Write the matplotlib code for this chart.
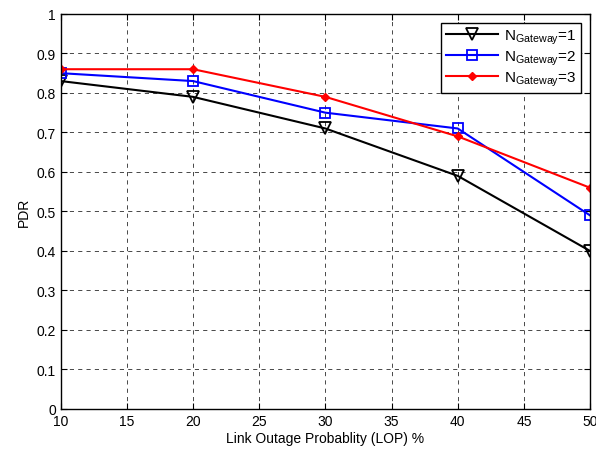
import matplotlib.pyplot as plt

plt.rcParams['font.family'] = ['Liberation Sans', 'DejaVu Sans']
plt.rcParams['mathtext.fontset'] = 'custom'
plt.rcParams['mathtext.rm'] = 'Liberation Sans'

# data
lop = [10, 20, 30, 40, 50]
pdr_gw1 = [0.83, 0.79, 0.71, 0.59, 0.40]
pdr_gw2 = [0.85, 0.83, 0.75, 0.71, 0.49]
pdr_gw3 = [0.86, 0.86, 0.79, 0.69, 0.56]
labels = ['N$_{\\rm Gateway}$=1', 'N$_{\\rm Gateway}$=2', 'N$_{\\rm Gateway}$=3']

fig = plt.figure(figsize=(5.96, 4.52), dpi=100)
ax = fig.add_axes([0.102, 0.093, 0.888, 0.874])

ax.plot(lop, pdr_gw1, color='black', lw=1.5, marker='v', ms=8, mfc='none', mew=1.3, label=labels[0])
ax.plot(lop, pdr_gw2, color='blue', lw=1.5, marker='s', ms=7, mfc='none', mew=1.3, label=labels[1])
ax.plot(lop, pdr_gw3, color='red', lw=1.5, marker='D', ms=4, mfc='red', label=labels[2])

ax.set_xlim(10, 50)
ax.set_ylim(0, 1)
ax.set_xticks(range(10, 51, 5))
ax.set_yticks([i / 10 for i in range(11)])
ax.set_yticklabels(['0', '0.1', '0.2', '0.3', '0.4', '0.5', '0.6', '0.7', '0.8', '0.9', '1'])
ax.tick_params(direction='in', labelsize=10, length=4, top=True, right=True)
ax.grid(True, color='black', ls=(0, (6, 6)), lw=0.5)
for s in ax.spines.values():
    s.set_linewidth(1)

ax.set_xlabel('Link Outage Probablity (LOP) %', fontsize=10, labelpad=2)
ax.set_ylabel('PDR', fontsize=10)

leg = ax.legend(loc='upper right', fontsize=11, fancybox=False, framealpha=1,
                edgecolor='black', handlelength=3.4, borderaxespad=0.6,
                labelspacing=0.15, borderpad=0.3, handletextpad=0.4)
leg.get_frame().set_linewidth(1)

fig.savefig('out.png', dpi=100)
